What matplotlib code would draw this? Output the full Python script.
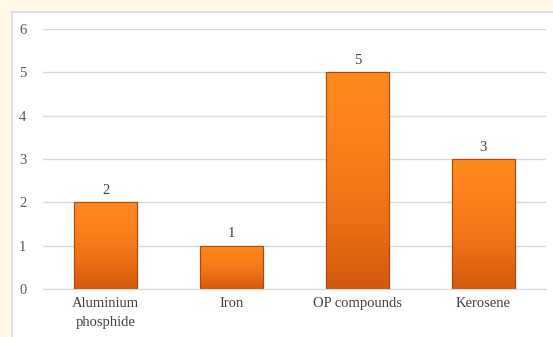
import numpy as np
import matplotlib.pyplot as plt
from matplotlib.patches import Rectangle
from matplotlib.colors import LinearSegmentedColormap

categories = ["Aluminium\nphosphide", "Iron", "OP compounds", "Kerosene"]
counts = [2, 1, 5, 3]
yticks = [0, 1, 2, 3, 4, 5, 6]

plt.rcParams['font.family'] = ['Liberation Serif', 'DejaVu Serif']

W, H = 553, 337
fig = plt.figure(figsize=(W / 100, H / 100), dpi=100, facecolor='#FFF9E6')

# white chart panel with thin grey frame
panel = Rectangle((12 / W, -0.05), 1.1, 1 - 12 / H + 0.05, transform=fig.transFigure,
                  facecolor='white', edgecolor='#D9D9D9', linewidth=1.2, zorder=-10)
fig.patches.append(panel)

ax = fig.add_axes([43 / W, 1 - 289 / H, (546 - 43) / W, (289 - 29) / H])
ax.set_facecolor('none')
ax.set_zorder(1)

x = np.arange(len(categories))
bars = ax.bar(x, counts, width=0.5, color='#F07818', edgecolor='#A9480F',
              linewidth=0.8, zorder=2)

# vertical orange gradient inside each bar
cmap = LinearSegmentedColormap.from_list('orng', ['#D25A0E', '#EE7016', '#FB7F1A', '#FF8A1E'])
grad = np.linspace(0, 1, 256).reshape(-1, 1)
for b in bars:
    x0, w, h = b.get_x(), b.get_width(), b.get_height()
    im = ax.imshow(grad, cmap=cmap, aspect='auto', origin='lower',
                   extent=(x0, x0 + w, 0, h), zorder=2.5)
    im.set_clip_path(b)
    ax.add_patch(Rectangle((x0, 0), w, h, fill=False, edgecolor='#A9480F',
                           linewidth=0.8, zorder=3))
    ax.text(x0 + w / 2, h + 0.12, str(int(h)), ha='center', va='bottom',
            fontsize=10.5, color='#404040')

ax.set_xlim(-0.5, len(categories) - 0.5)
ax.set_ylim(0, 6)
ax.set_yticks(yticks)
ax.set_xticks(x)
ax.set_xticklabels(categories, fontsize=10.5, color='#404040', linespacing=1.55)
ax.tick_params(axis='y', labelsize=10.5, labelcolor='#595959', length=0, pad=12)
ax.tick_params(axis='x', length=0, pad=6)
ax.grid(axis='y', color='#D9D9D9', linewidth=1.0, zorder=0)
ax.set_axisbelow(True)
for s in ['top', 'right', 'left']:
    ax.spines[s].set_visible(False)
ax.spines['bottom'].set_color('#D9D9D9')

fig.savefig('out.png', dpi=100, facecolor=fig.get_facecolor())
